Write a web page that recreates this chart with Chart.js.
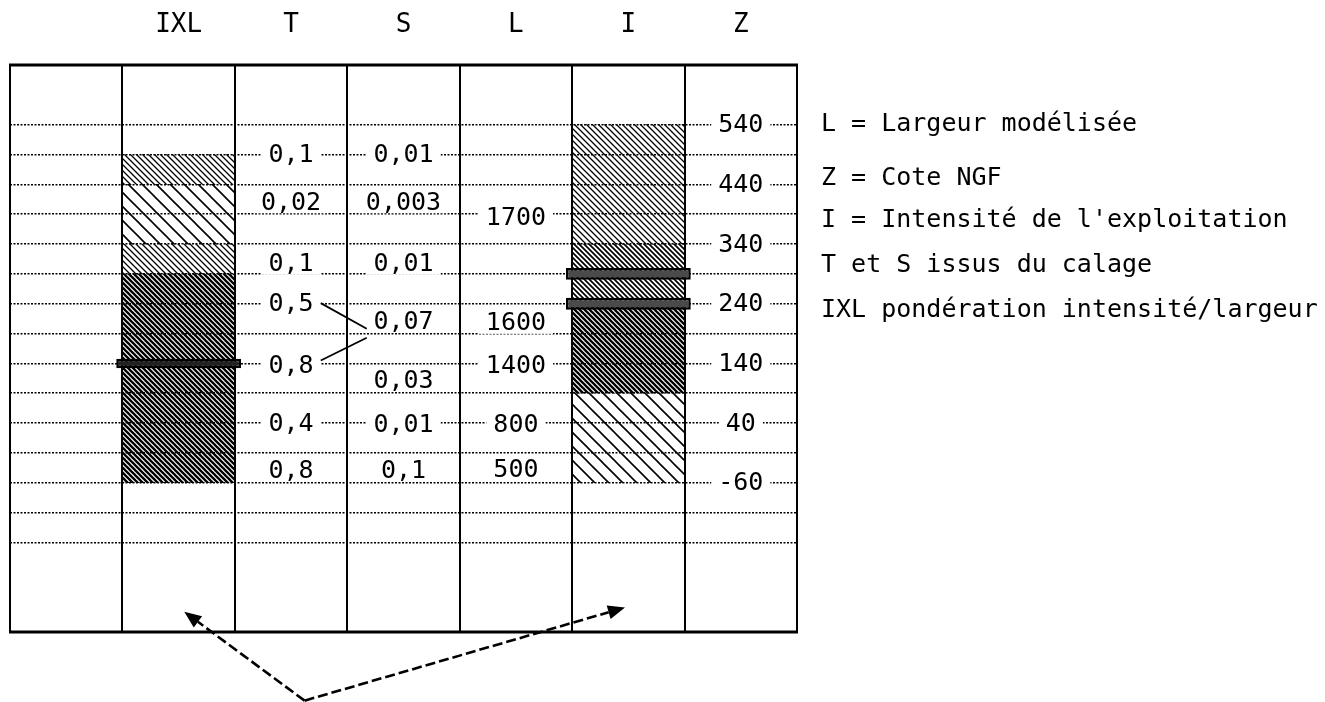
<!DOCTYPE html>
<html><head><meta charset="utf-8">
<script src="https://cdn.jsdelivr.net/npm/chart.js@4.4.1/dist/chart.umd.min.js"></script>
<style>html,body{margin:0;padding:0;background:#fff;}canvas{display:block;}</style>
</head><body>
<canvas id="c" width="1325" height="702"></canvas>
<script>
// ---- data ----
const columns = ["", "IXL", "T", "S", "L", "I", "Z"];
const zRange = [-310, 640];
const zGridLines = [540, 490, 440, 390, 340, 290, 240, 190, 140, 90, 40, -10, -60, -110, -160];
const zLabels = ["540", "440", "340", "240", "140", "40", "-60"];
const zLabelValues = [540, 440, 340, 240, 140, 40, -60];

const tLabels = ["0,1", "0,02", "0,1", "0,5", "0,8", "0,4", "0,8"];
const tZ = [490, 410, 307, 240, 137, 40, -39];
const sLabels = ["0,01", "0,003", "0,01", "0,07", "0,03", "0,01", "0,1"];
const sZ = [490, 410, 307, 210, 111, 38, -39];
const lLabels = ["1700", "1600", "1400", "800", "500"];
const lZ = [384, 208, 136, 38, -38];

const ixlLow = [440, 340, 290, -60];
const ixlHigh = [490, 440, 340, 290];
const ixlHatch = ["medium", "sparse", "medium", "dark"];
const iLow = [340, 290, 240, 90, -60];
const iHigh = [540, 340, 290, 240, 90];
const iHatch = ["medium", "dense", "dense", "dark", "sparse"];
const ixlMarkers = [140];
const iMarkers = [290, 240];

// bracket "0,5 / 0,8 -> 0,07" : [xIndexFrom, zFrom, xIndexTo, zTo]
const bracketLines = [[2.264, 241, 2.673, 198], [2.264, 145, 2.673, 183]];
// arrows: common origin and tips [xIndex, z]
const arrowOrigin = [2.12, -425];
const arrowTips = [[1.05, -276], [4.97, -269]];

const legendLines = ["L = Largeur modélisée", "Z = Cote NGF", "I = Intensité de l'exploitation", "T et S issus du calage", "IXL pondération intensité/largeur"];

// ---- patterns ----
const canvas = document.getElementById('c');
const mainCtx = canvas.getContext('2d');
function hatch(step, lw) {
  const c = document.createElement('canvas'); c.width = step; c.height = step;
  const g = c.getContext('2d');
  g.strokeStyle = '#000'; g.lineWidth = lw;
  g.beginPath();
  for (let k = -1; k <= 1; k++) { g.moveTo(k * step - 1, -1); g.lineTo(k * step + step + 1, step + 1); }
  g.stroke();
  return mainCtx.createPattern(c, 'repeat');
}
const patterns = { sparse: hatch(14, 1.6), medium: hatch(6, 1.3), dense: hatch(5, 1.7), dark: hatch(5, 2.3) };

const hatchData = [], hatchColors = [];
ixlLow.forEach((lo, i) => { hatchData.push({ x: "IXL", y: [lo, ixlHigh[i]] }); hatchColors.push(patterns[ixlHatch[i]]); });
iLow.forEach((lo, i) => { hatchData.push({ x: "I", y: [lo, iHigh[i]] }); hatchColors.push(patterns[iHatch[i]]); });

const markerData = [], markerColors = [];
ixlMarkers.forEach(z => { markerData.push({ x: "IXL", y: [z - 8, z + 8] }); markerColors.push('#222'); });
iMarkers.forEach(z => { markerData.push({ x: "I", y: [z - 10, z + 10] }); markerColors.push('#4a4a4a'); });

const FONT = '"DejaVu Sans Mono", monospace';

const annot = {
  id: 'annot',
  beforeDraw(chart) {
    const ctx = chart.ctx; ctx.save(); ctx.fillStyle = '#fff'; ctx.fillRect(0, 0, chart.width, chart.height); ctx.restore();
  },
  afterDraw(chart) {
    const { ctx, chartArea: a } = chart;
    const xs = chart.scales.x, ys = chart.scales.y;
    const X = v => xs.getPixelForValue(v), Y = v => ys.getPixelForValue(v);
    ctx.save();
    ctx.font = '25px ' + FONT;
    ctx.textAlign = 'center'; ctx.textBaseline = 'middle';
    function cell(col, z, txt) {
      const px = X(columns.indexOf(col)), py = Y(z);
      const w = ctx.measureText(txt).width;
      ctx.fillStyle = '#fff'; ctx.fillRect(px - w / 2 - 7, py - 11, w + 14, 22);
      ctx.fillStyle = '#000'; ctx.fillText(txt, px, py + 1);
    }
    tLabels.forEach((t, i) => cell("T", tZ[i], t));
    sLabels.forEach((t, i) => cell("S", sZ[i], t));
    lLabels.forEach((t, i) => cell("L", lZ[i], t));
    zLabels.forEach((t, i) => cell("Z", zLabelValues[i], t));

    // bracket lines
    ctx.strokeStyle = '#000'; ctx.lineWidth = 1.8;
    bracketLines.forEach(b => { ctx.beginPath(); ctx.moveTo(X(b[0]), Y(b[1])); ctx.lineTo(X(b[2]), Y(b[3])); ctx.stroke(); });

    // box border
    ctx.lineWidth = 3;
    ctx.beginPath(); ctx.moveTo(a.left - 1, a.top); ctx.lineTo(a.right + 1, a.top); ctx.stroke();
    ctx.beginPath(); ctx.moveTo(a.left - 1, a.bottom); ctx.lineTo(a.right + 1, a.bottom); ctx.stroke();
    ctx.lineWidth = 2;
    ctx.beginPath(); ctx.moveTo(a.left, a.top); ctx.lineTo(a.left, a.bottom); ctx.stroke();
    ctx.beginPath(); ctx.moveTo(a.right, a.top); ctx.lineTo(a.right, a.bottom); ctx.stroke();

    // arrows
    const ox = X(arrowOrigin[0]), oy = Y(arrowOrigin[1]);
    arrowTips.forEach(t => {
      const tx = X(t[0]), ty = Y(t[1]);
      const ang = Math.atan2(ty - oy, tx - ox);
      const L = 17, W = 7;
      const bx = tx - L * Math.cos(ang), by = ty - L * Math.sin(ang);
      ctx.setLineDash([10, 4]); ctx.lineWidth = 2.6;
      ctx.beginPath(); ctx.moveTo(ox, oy); ctx.lineTo(bx, by); ctx.stroke();
      ctx.setLineDash([]);
      ctx.fillStyle = '#000';
      ctx.beginPath(); ctx.moveTo(tx, ty);
      ctx.lineTo(bx + W * Math.sin(ang), by - W * Math.cos(ang));
      ctx.lineTo(bx - W * Math.sin(ang), by + W * Math.cos(ang));
      ctx.closePath(); ctx.fill();
    });

    // legend text
    ctx.font = '25px ' + FONT; ctx.textAlign = 'left'; ctx.fillStyle = '#000';
    const ly = [124, 178, 220, 265, 310];
    legendLines.forEach((t, i) => ctx.fillText(t, 821, ly[i]));
    ctx.restore();
  }
};

new Chart(canvas, {
  type: 'bar',
  data: {
    labels: columns,
    datasets: [
      { label: 'repères', data: markerData, backgroundColor: markerColors, borderColor: '#000', borderWidth: 2.5, borderSkipped: false, grouped: false, categoryPercentage: 1, barPercentage: 1.11, order: 0 },
      { label: 'intensité', data: hatchData, backgroundColor: hatchColors, borderWidth: 0, grouped: false, categoryPercentage: 1, barPercentage: 1, order: 1 }
    ]
  },
  options: {
    responsive: false, animation: false, devicePixelRatio: 1,
    layout: { padding: { left: 10, right: 528, top: 0, bottom: 70 } },
    plugins: { legend: { display: false }, tooltip: { enabled: false } },
    scales: {
      x: {
        position: 'top', offset: true,
        grid: { offset: true, color: '#000', lineWidth: 2, drawTicks: false },
        border: { display: false },
        ticks: { font: { family: FONT, size: 26 }, color: '#000', padding: 24, autoSkip: false, maxRotation: 0 },
        afterFit: s => { s.height = 65; }
      },
      y: {
        min: zRange[0], max: zRange[1],
        afterBuildTicks: s => { s.ticks = zGridLines.map(v => ({ value: v })); },
        ticks: { display: false },
        grid: { color: '#000', lineWidth: 1.6, drawTicks: false },
        border: { display: false, dash: [2, 1.5] },
        afterFit: s => { s.width = 0; }
      }
    }
  },
  plugins: [annot]
});
</script>
</body></html>
